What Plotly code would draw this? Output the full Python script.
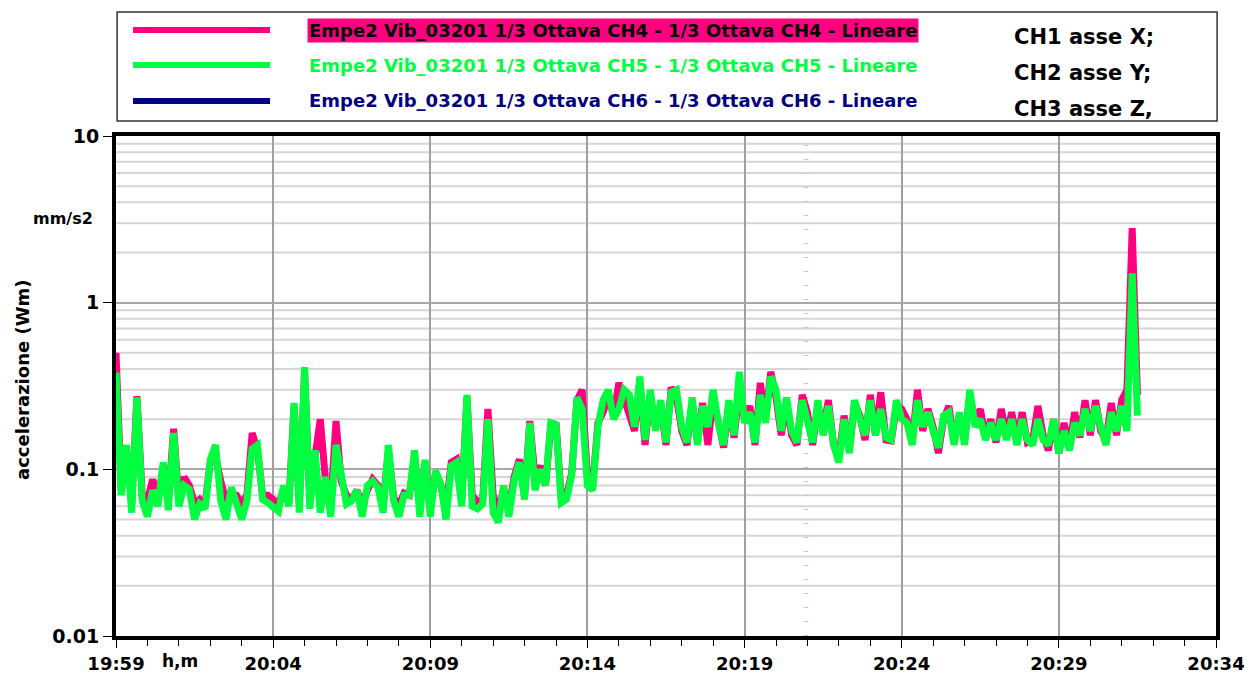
import pandas as pd
import plotly.graph_objects as go

# campionamento: un valore ogni 10 s a partire dalle 19:59
start = "2021-01-01 19:59:00"
step = "10s"

# CH4 (rosa) - mm/s2
ch4 = [0.5, 0.075, 0.13, 0.062, 0.275, 0.07, 0.065, 0.087, 0.068, 0.1,
       0.065, 0.175, 0.066, 0.09, 0.08, 0.062, 0.066, 0.062, 0.11, 0.12,
       0.085, 0.065, 0.07, 0.07, 0.062, 0.07, 0.165, 0.13, 0.07, 0.07,
       0.066, 0.062, 0.075, 0.062, 0.24, 0.062, 0.38, 0.066, 0.12, 0.2,
       0.085, 0.062, 0.195, 0.085, 0.07, 0.066, 0.075, 0.062, 0.075, 0.087,
       0.08, 0.062, 0.13, 0.068, 0.06, 0.072, 0.07, 0.12, 0.06, 0.11,
       0.058, 0.095, 0.08, 0.058, 0.11, 0.115, 0.064, 0.27, 0.07, 0.064,
       0.065, 0.23, 0.07, 0.056, 0.076, 0.058, 0.09, 0.115, 0.07, 0.195,
       0.09, 0.105, 0.08, 0.18, 0.19, 0.068, 0.07, 0.095, 0.26, 0.3,
       0.09, 0.08, 0.19, 0.22, 0.27, 0.21, 0.33, 0.26, 0.22, 0.17,
       0.33, 0.14, 0.28, 0.18, 0.24, 0.14, 0.31, 0.27, 0.17, 0.14,
       0.25, 0.15, 0.25, 0.14, 0.27, 0.2, 0.135, 0.24, 0.155, 0.3,
       0.2, 0.24, 0.14, 0.33, 0.2, 0.385, 0.27, 0.16, 0.25, 0.16,
       0.14, 0.28, 0.22, 0.14, 0.24, 0.17, 0.26, 0.14, 0.12, 0.21,
       0.13, 0.25, 0.21, 0.15, 0.28, 0.16, 0.29, 0.15, 0.148, 0.24,
       0.23, 0.2, 0.145, 0.3, 0.17, 0.23, 0.18, 0.125, 0.2, 0.24,
       0.145, 0.21, 0.15, 0.28, 0.19, 0.23, 0.155, 0.2, 0.145, 0.23,
       0.16, 0.22, 0.15, 0.22, 0.145, 0.15, 0.24, 0.16, 0.13, 0.2,
       0.125, 0.19, 0.135, 0.22, 0.155, 0.26, 0.16, 0.26, 0.17, 0.15,
       0.25, 0.16, 0.26, 0.3, 2.8, 0.28]

# CH5 (verde) - mm/s2
ch5 = [0.38, 0.07, 0.14, 0.055, 0.27, 0.065, 0.052, 0.075, 0.06, 0.11,
       0.057, 0.165, 0.06, 0.08, 0.076, 0.05, 0.062, 0.058, 0.114, 0.14,
       0.065, 0.05, 0.078, 0.063, 0.05, 0.065, 0.133, 0.14, 0.066, 0.063,
       0.06, 0.056, 0.08, 0.06, 0.25, 0.055, 0.41, 0.058, 0.13, 0.055,
       0.09, 0.052, 0.14, 0.09, 0.062, 0.065, 0.075, 0.052, 0.08, 0.085,
       0.078, 0.055, 0.14, 0.065, 0.052, 0.07, 0.07, 0.13, 0.052, 0.114,
       0.052, 0.098, 0.082, 0.05, 0.105, 0.11, 0.06, 0.28, 0.06, 0.058,
       0.062, 0.2, 0.055, 0.048, 0.08, 0.052, 0.085, 0.11, 0.066, 0.19,
       0.075, 0.1, 0.08, 0.19, 0.185, 0.063, 0.066, 0.092, 0.27, 0.23,
       0.08, 0.075, 0.18, 0.26, 0.3, 0.2, 0.23, 0.3, 0.28, 0.18,
       0.36, 0.15, 0.3, 0.17, 0.26, 0.145, 0.29, 0.3, 0.18, 0.145,
       0.27, 0.14, 0.24, 0.18, 0.3, 0.19, 0.14, 0.26, 0.16, 0.385,
       0.19, 0.22, 0.145, 0.28, 0.19, 0.36, 0.3, 0.17, 0.27, 0.17,
       0.145, 0.26, 0.2, 0.145, 0.26, 0.16, 0.24, 0.14, 0.11, 0.2,
       0.125, 0.26, 0.2, 0.16, 0.26, 0.16, 0.23, 0.155, 0.15, 0.26,
       0.2, 0.19, 0.14, 0.26, 0.18, 0.22, 0.17, 0.135, 0.21, 0.22,
       0.14, 0.22, 0.14, 0.3, 0.18, 0.2, 0.15, 0.19, 0.15, 0.2,
       0.15, 0.2, 0.14, 0.2, 0.15, 0.14, 0.2, 0.15, 0.14, 0.2,
       0.125, 0.17, 0.13, 0.19, 0.16, 0.23, 0.17, 0.24, 0.18, 0.14,
       0.22, 0.17, 0.24, 0.17, 1.5, 0.21]

names = ["Empe2 Vib_03201 1/3 Ottava CH4 - 1/3 Ottava CH4 - Lineare",
         "Empe2 Vib_03201 1/3 Ottava CH5 - 1/3 Ottava CH5 - Lineare",
         "Empe2 Vib_03201 1/3 Ottava CH6 - 1/3 Ottava CH6 - Lineare"]
colori = ["#FF0080", "#00FF40", "#000080"]
note_assi = ["CH1 asse X;", "CH2 asse Y;", "CH3 asse Z,"]

x_range = ["2021-01-01 19:59:00", "2021-01-01 20:34:00"]
marker_time = "2021-01-01 20:20:57"
y_ticks = [0.01, 0.1, 1, 10]
y_ticktext = ["0.01", "0.1", "1", "10"]
minori = [2, 3, 4, 5, 6, 7, 8, 9]

t = pd.date_range(start, periods=len(ch5), freq=step)

font = "DejaVu Sans"

fig = go.Figure()
fig.add_trace(go.Scatter(x=t, y=ch4, mode="lines", line=dict(color=colori[0], width=7),
                         name=names[0], showlegend=False))
fig.add_trace(go.Scatter(x=t, y=ch5, mode="lines", line=dict(color=colori[1], width=7),
                         name=names[1], showlegend=False))

shapes = []
# griglia secondaria log
for dec in [0.01, 0.1, 1]:
    for m in minori:
        shapes.append(dict(type="line", xref="paper", yref="y", x0=0, x1=1,
                           y0=dec * m, y1=dec * m, layer="below",
                           line=dict(color="#d6d6d6", width=2)))
# linea tratteggiata
shapes.append(dict(type="line", xref="x", yref="paper", x0=marker_time, x1=marker_time,
                   y0=0, y1=1, layer="below",
                   line=dict(color="#c4c4f2", width=5, dash="1px,13px")))
# riquadro legenda
shapes.append(dict(type="rect", xref="paper", yref="paper", x0=0.001, x1=1.001,
                   y0=1.03, y1=1.248, line=dict(color="#333333", width=1.5)))

ann = []
ly = [1.212, 1.142, 1.07]
for i in range(3):
    shapes.append(dict(type="line", xref="paper", yref="paper", x0=0.0155, x1=0.14,
                       y0=ly[i], y1=ly[i], line=dict(color=colori[i], width=6)))
    ann.append(dict(text=names[i], xref="paper", yref="paper", x=0.174, y=ly[i],
                    xanchor="left", yanchor="middle", showarrow=False,
                    font=dict(family=font, size=18, color="black" if i == 0 else colori[i], weight="bold"),
                    bgcolor=colori[0] if i == 0 else None, borderpad=1))
ny = [1.198, 1.126, 1.054]
for i in range(3):
    ann.append(dict(text=note_assi[i], xref="paper", yref="paper", x=0.8145, y=ny[i],
                    xanchor="left", yanchor="middle", showarrow=False,
                    font=dict(family=font, size=21, color="black", weight="bold")))

ann.append(dict(text="h,m", xref="paper", yref="paper", x=0.058, y=-0.05,
                xanchor="center", yanchor="middle", showarrow=False,
                font=dict(family=font, size=17, color="black", weight="bold")))
ann.append(dict(text="mm/s2", xref="paper", yref="paper", x=-0.048, y=0.836,
                xanchor="center", yanchor="middle", showarrow=False,
                font=dict(family=font, size=16, color="black", weight="bold")))
ann.append(dict(text="accelerazione (Wm)", xref="paper", yref="paper", x=-0.0855, y=0.512,
                xanchor="center", yanchor="middle", textangle=-90, showarrow=False,
                font=dict(family=font, size=18, color="black", weight="bold")))

# la pagina ha un margine di 8 px: la figura viene spostata di conseguenza
fig.update_layout(
    width=1244, height=667,
    margin=dict(l=108, r=36, t=128, b=39),
    paper_bgcolor="white", plot_bgcolor="white",
    shapes=shapes, annotations=ann,
    xaxis=dict(type="date", range=x_range, tick0=x_range[0], dtick=300000, automargin=False,
               tickformat="%H:%M", ticks="outside", ticklen=8, tickcolor="black",
               showgrid=True, gridcolor="#a0a0a0", gridwidth=1.5,
               showline=True, linewidth=4, linecolor="black", mirror=True,
               minor=dict(dtick=60000, ticks="outside", ticklen=6, tickcolor="black", showgrid=False),
               tickfont=dict(family=font, size=18, color="black", weight="bold")),
    yaxis=dict(type="log", range=[-2, 1], tickvals=y_ticks, ticktext=y_ticktext, automargin=False,
               ticks="outside", ticklen=9, tickcolor="black",
               showgrid=True, gridcolor="#a8a8a8", gridwidth=2,
               showline=True, linewidth=4, linecolor="black", mirror=True,
               tickfont=dict(family=font, size=19, color="black", weight="bold")),
)

fig.write_html("out.html")
